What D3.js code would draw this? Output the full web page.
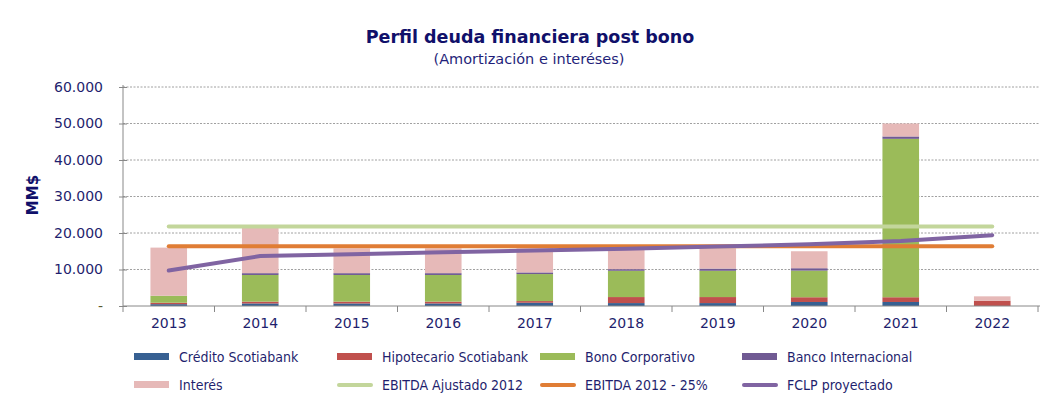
<!DOCTYPE html>
<html>
<head>
<meta charset="utf-8">
<script src="https://cdn.jsdelivr.net/npm/d3@7"></script>
<style>
  body { margin: 0; background: #fff; }
  svg text { font-family: "DejaVu Sans", Verdana, sans-serif; }
</style>
</head>
<body>
<div id="container"></div>
<script>
// data (MM$)
const years = ["2013", "2014", "2015", "2016", "2017", "2018", "2019", "2020", "2021", "2022"];
const credito     = [500, 700, 700, 700, 900, 800, 800, 1100, 1100, 0];
const hipotecario = [400, 500, 500, 500, 450, 1650, 1650, 1300, 1300, 1450];
const bono        = [1900, 7300, 7300, 7300, 7400, 7200, 7200, 7300, 43400, 0];
const bancoInt    = [0, 500, 500, 500, 450, 450, 600, 650, 650, 0];
const interes     = [13200, 12400, 6800, 6800, 6600, 5400, 5550, 4650, 3550, 1200];
const ebitdaAjustado = [21800, 21800, 21800, 21800, 21800, 21800, 21800, 21800, 21800, 21800];
const ebitda25       = [16350, 16350, 16350, 16350, 16350, 16350, 16350, 16350, 16350, 16350];
const fclp           = [9700, 13700, 14200, 14700, 15200, 15700, 16300, 16900, 17800, 19400];
const yTicks = [0, 10000, 20000, 30000, 40000, 50000, 60000];

const barSeries = [
  {name: "Crédito Scotiabank", values: credito, color: "#376092"},
  {name: "Hipotecario Scotiabank", values: hipotecario, color: "#c0504d"},
  {name: "Bono Corporativo", values: bono, color: "#9bbb59"},
  {name: "Banco Internacional", values: bancoInt, color: "#705a93"},
  {name: "Interés", values: interes, color: "#e6b9b8"}
];
const lineSeries = [
  {name: "EBITDA Ajustado 2012", values: ebitdaAjustado, color: "#c3d69b"},
  {name: "EBITDA 2012 - 25%", values: ebitda25, color: "#e07d35"},
  {name: "FCLP proyectado", values: fclp, color: "#8064a2"}
];

const width = 1051, height = 406;
const plot = {left: 123, right: 1038, top: 87, bottom: 306};
const navy = "#1f1f6e";

const svg = d3.select("#container").append("svg")
  .attr("width", width)
  .attr("height", height);

const xScale = d3.scaleBand()
  .domain(years)
  .range([plot.left, plot.right])
  .paddingInner(0.6)
  .paddingOuter(0.3);

const yScale = d3.scaleLinear()
  .domain([0, 60000])
  .range([plot.bottom, plot.top]);

const loc = d3.formatLocale({decimal: ",", thousands: ".", grouping: [3], currency: ["$", ""]});
const fmt = loc.format(",.0f");

// gridlines
svg.append("g")
  .selectAll("line")
  .data(yTicks.filter(d => d > 0))
  .join("line")
  .attr("x1", plot.left)
  .attr("x2", plot.right + 2)
  .attr("y1", d => yScale(d))
  .attr("y2", d => yScale(d))
  .attr("stroke", "#a0a0a0")
  .attr("stroke-dasharray", "2,1.5")
  .attr("stroke-width", 1);

// stacked bars
const rows = years.map((y, i) => {
  const r = {year: y};
  barSeries.forEach(s => r[s.name] = s.values[i]);
  return r;
});
const stack = d3.stack().keys(barSeries.map(s => s.name))(rows);

svg.append("g")
  .selectAll("g")
  .data(stack)
  .join("g")
  .attr("fill", (d, i) => barSeries[i].color)
  .selectAll("rect")
  .data(d => d)
  .join("rect")
  .attr("x", d => xScale(d.data.year))
  .attr("width", xScale.bandwidth())
  .attr("y", d => yScale(d[1]))
  .attr("height", d => yScale(d[0]) - yScale(d[1]));

// axes
const yAxisG = svg.append("g")
  .attr("transform", `translate(${plot.left},0)`)
  .call(d3.axisLeft(yScale).tickValues(yTicks).tickSize(4).tickFormat(d => d === 0 ? "-" : fmt(d)));
yAxisG.select(".domain").attr("stroke", "#888").attr("d", `M0,${plot.top - 2}V${plot.bottom}`);
yAxisG.selectAll(".tick line").attr("stroke", "#888").attr("x1", -4).attr("x2", 4);
yAxisG.selectAll(".tick text")
  .attr("x", -20)
  .attr("fill", d => d === 0 ? "#5a5a30" : navy)
  .style("font-size", "14px")
  .style("font-family", "DejaVu Sans, Verdana, sans-serif");

const xAxisG = svg.append("g")
  .attr("transform", `translate(0,${plot.bottom})`)
  .call(d3.axisBottom(xScale).tickSize(0).tickPadding(12));
xAxisG.select(".domain").attr("stroke", "#888").attr("d", `M${plot.left},0H${plot.right + 2}`);
xAxisG.selectAll(".tick text")
  .attr("fill", navy)
  .style("font-size", "14px")
  .style("font-family", "DejaVu Sans, Verdana, sans-serif");

// category separators on the x axis
svg.append("g")
  .selectAll("line")
  .data(years.concat(["end"]))
  .join("line")
  .attr("x1", (d, i) => plot.left + i * (plot.right - plot.left) / years.length)
  .attr("x2", (d, i) => plot.left + i * (plot.right - plot.left) / years.length)
  .attr("y1", plot.bottom)
  .attr("y2", plot.bottom + 6)
  .attr("stroke", "#888");

// lines
const lineGen = d3.line()
  .x((d, i) => xScale(years[i]) + xScale.bandwidth() / 2)
  .y(d => yScale(d));

svg.append("g")
  .selectAll("path")
  .data(lineSeries)
  .join("path")
  .attr("d", d => lineGen(d.values))
  .attr("fill", "none")
  .attr("stroke", d => d.color)
  .attr("stroke-width", 4)
  .attr("stroke-linecap", "round")
  .attr("stroke-linejoin", "round");

// titles
svg.append("text")
  .attr("x", 530)
  .attr("y", 43)
  .attr("text-anchor", "middle")
  .attr("fill", "#10106a")
  .style("font-size", "17.5px")
  .style("font-weight", "bold")
  .text("Perfil deuda financiera post bono");

svg.append("text")
  .attr("x", 529)
  .attr("y", 64)
  .attr("text-anchor", "middle")
  .attr("fill", "#1f1f7a")
  .style("font-size", "14.5px")
  .text("(Amortización e interéses)");

svg.append("text")
  .attr("transform", "translate(38,195) rotate(-90)")
  .attr("text-anchor", "middle")
  .attr("fill", "#10106a")
  .style("font-size", "15px")
  .style("font-weight", "bold")
  .text("MM$");

// legend
const legendCols = [134, 337, 540, 742];
const legendRows = [357, 385];
const legendItems = barSeries.map(s => ({...s, kind: "rect"}))
  .concat(lineSeries.map(s => ({...s, kind: "line"})));

const leg = svg.append("g")
  .selectAll("g")
  .data(legendItems)
  .join("g")
  .attr("transform", (d, i) => `translate(${legendCols[i % 4]},${legendRows[Math.floor(i / 4)]})`);

leg.filter(d => d.kind === "rect").append("rect")
  .attr("x", 0).attr("y", -4)
  .attr("width", 35).attr("height", 7)
  .attr("fill", d => d.color);

leg.filter(d => d.kind === "line").append("line")
  .attr("x1", 2).attr("x2", 34)
  .attr("y1", 0).attr("y2", 0)
  .attr("stroke", d => d.color)
  .attr("stroke-width", 4)
  .attr("stroke-linecap", "round");

leg.append("text")
  .attr("x", 45)
  .attr("y", 0)
  .attr("dy", "0.35em")
  .attr("fill", navy)
  .style("font-size", "14px")
  .style("font-family", "'DejaVu Sans Condensed', 'DejaVu Sans', sans-serif")
  .text(d => d.name);
</script>
</body>
</html>
